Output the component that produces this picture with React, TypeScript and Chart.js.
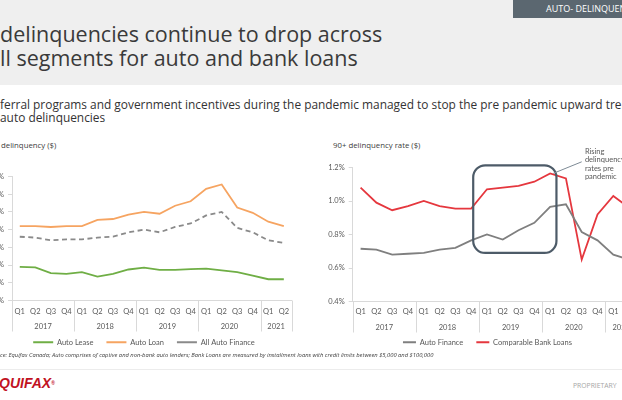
import React, { useEffect, useRef } from 'react';
import { Chart, registerables } from 'chart.js';

Chart.register(...registerables);

// ---------- data ----------
const quarters = ['Q1', 'Q2', 'Q3', 'Q4', 'Q1', 'Q2', 'Q3', 'Q4', 'Q1', 'Q2', 'Q3', 'Q4', 'Q1', 'Q2', 'Q3', 'Q4', 'Q1', 'Q2'];
const yearLabels = ['2017', '2018', '2019', '2020', '2021'];
const yearStarts = [0, 4, 8, 12, 16];
const yearCounts = [4, 4, 4, 4, 2];

const autoLease = [0.38, 0.375, 0.31, 0.30, 0.32, 0.27, 0.30, 0.35, 0.37, 0.345, 0.345, 0.355, 0.36, 0.34, 0.32, 0.28, 0.24, 0.24];
const autoLoan = [0.84, 0.84, 0.83, 0.84, 0.84, 0.91, 0.92, 0.97, 1.0, 0.98, 1.07, 1.12, 1.26, 1.31, 1.05, 0.99, 0.89, 0.84];
const allAutoFinance = [0.72, 0.71, 0.68, 0.69, 0.69, 0.71, 0.72, 0.77, 0.8, 0.77, 0.83, 0.87, 0.96, 1.0, 0.82, 0.77, 0.68, 0.65];

const autoFinance = [0.715, 0.71, 0.68, 0.685, 0.69, 0.71, 0.72, 0.765, 0.8, 0.77, 0.825, 0.87, 0.965, 0.98, 0.815, 0.765, 0.68, 0.65];
const bankLoans = [1.08, 0.99, 0.945, 0.97, 1.0, 0.97, 0.955, 0.955, 1.07, 1.08, 1.09, 1.115, 1.165, 1.135, 0.65, 0.92, 1.03, 0.96];

const leftAxis = { min: 0, max: 1.4, step: 0.2 };
const rightAxis = { min: 0.4, max: 1.2, step: 0.2 };

const calloutLines = ['Rising', 'delinquency', 'rates pre', 'pandemic'];

// ---------- styles ----------
const CHART_FONT = 'Lato';
const TEXT_GREY = '#595959';
const AXIS_GREY = '#d9d9d9';

// year group labels + separators under the quarter axis
const yearGroupPlugin = {
  id: 'yearGroups',
  afterDraw(chart: any) {
    const x = chart.scales.x;
    if (!x) return;
    const ctx = chart.ctx;
    ctx.save();
    ctx.strokeStyle = AXIS_GREY;
    ctx.lineWidth = 1;
    const bounds = [...yearStarts, quarters.length];
    bounds.forEach((b) => {
      const px = Math.round(x.getPixelForValue(b - 0.5)) + 0.5;
      ctx.beginPath();
      ctx.moveTo(px, x.top);
      ctx.lineTo(px, x.top + 31);
      ctx.stroke();
    });
    ctx.fillStyle = TEXT_GREY;
    ctx.font = `7.5px ${CHART_FONT}`;
    ctx.textAlign = 'center';
    ctx.textBaseline = 'middle';
    yearLabels.forEach((label, i) => {
      const px = x.getPixelForValue(yearStarts[i] + (yearCounts[i] - 1) / 2);
      ctx.fillText(label, px, x.top + 26);
    });
    ctx.restore();
  },
};

const calloutPlugin = {
  id: 'callout',
  afterDatasetsDraw(chart: any, _args: any, opts: any) {
    if (!opts || !opts.enabled) return;
    const { x, y } = chart.scales;
    const ctx = chart.ctx;
    ctx.save();
    const l = x.getPixelForValue(opts.box.x0);
    const r = x.getPixelForValue(opts.box.x1);
    const t = y.getPixelForValue(opts.box.y1);
    const b = y.getPixelForValue(opts.box.y0);
    ctx.strokeStyle = '#4d5b68';
    ctx.lineWidth = 2.2;
    ctx.beginPath();
    ctx.roundRect(l, t, r - l, b - t, 12);
    ctx.stroke();
    ctx.strokeStyle = '#7d8a95';
    ctx.lineWidth = 1;
    ctx.beginPath();
    ctx.moveTo(x.getPixelForValue(opts.leader.x0), y.getPixelForValue(opts.leader.y0));
    ctx.lineTo(x.getPixelForValue(opts.leader.x1), y.getPixelForValue(opts.leader.y1));
    ctx.stroke();
    ctx.fillStyle = TEXT_GREY;
    ctx.font = `7.5px ${CHART_FONT}`;
    ctx.textBaseline = 'middle';
    ctx.textAlign = 'left';
    const tx = x.getPixelForValue(opts.text.x);
    const ty = y.getPixelForValue(opts.text.y);
    calloutLines.forEach((line, i) => ctx.fillText(line, tx, ty + i * 8.3));
    ctx.restore();
  },
};

function buildOptions(cfg: any) {
  const tickFont = { family: CHART_FONT, size: 7.5 };
  const scales: any = {
    x: {
      type: 'category',
      offset: true,
      grid: { display: false, drawTicks: false },
      border: { display: true, color: AXIS_GREY, width: 1 },
      ticks: { color: TEXT_GREY, font: tickFont, padding: cfg.qPad, maxRotation: 0, autoSkip: false },
      afterFit: (axis: any) => { axis.height = cfg.xHeight; },
    },
    y: {
      min: cfg.axis.min,
      max: cfg.axis.max,
      grid: { drawOnChartArea: false, drawTicks: true, tickLength: 4, color: AXIS_GREY },
      border: { display: true, color: AXIS_GREY, width: 1 },
      ticks: {
        stepSize: cfg.axis.step,
        color: TEXT_GREY,
        font: tickFont,
        padding: 4,
        callback: (v: any) => Number(v).toFixed(1) + '%',
      },
      afterFit: (axis: any) => { axis.width = cfg.yWidth; },
    },
  };
  if (cfg.rightGutter) {
    // empty spacer on the right so the legend centres like the slide
    scales.gutter = {
      type: 'linear',
      position: 'right',
      grid: { display: false, drawTicks: false },
      border: { display: false },
      ticks: { display: false },
      afterFit: (axis: any) => { axis.width = cfg.rightGutter; },
    };
  }
  return {
    responsive: false,
    animation: false,
    layout: { padding: { top: cfg.padTop, left: cfg.padLeft, right: 0, bottom: 0 } },
    plugins: {
      legend: {
        position: 'bottom',
        labels: {
          usePointStyle: true,
          pointStyle: 'line',
          pointStyleWidth: cfg.legendWidth,
          padding: 13,
          color: TEXT_GREY,
          font: { family: CHART_FONT, size: 7.5 },
        },
      },
      tooltip: { enabled: false },
      callout: cfg.callout || { enabled: false },
    },
    scales,
  };
}

function line(label: string, data: number[], color: string, extra: any = {}) {
  return {
    label,
    data,
    borderColor: color,
    backgroundColor: color,
    borderWidth: 1.8,
    pointRadius: 0,
    tension: 0,
    fill: false,
    ...extra,
  };
}

function ChartCanvas({ style, width, height, makeConfig }: any) {
  const ref = useRef<HTMLCanvasElement | null>(null);
  useEffect(() => {
    if (!ref.current) return;
    const chart = new Chart(ref.current, makeConfig());
    return () => chart.destroy();
  }, []);
  return (
    <canvas
      ref={ref}
      width={width}
      height={height}
      style={{ position: 'absolute', width, height, ...style }}
    />
  );
}

const leftConfig = () => ({
  type: 'line',
  data: {
    labels: quarters,
    datasets: [
      line('Auto Lease', autoLease, '#6fae45'),
      line('Auto Loan', autoLoan, '#f6a461'),
      line('All Auto Finance', allAutoFinance, '#8a8a8a', { borderDash: [5, 3.5] }),
    ],
  },
  options: buildOptions({
    padTop: 20.5,
    padLeft: 0,
    legendWidth: 20,
    qPad: 7,
    xHeight: 25,
    yWidth: 20,
    axis: leftAxis,
  }),
  plugins: [yearGroupPlugin],
});

const rightConfig = () => ({
  type: 'line',
  data: {
    labels: quarters,
    datasets: [
      line('Auto Finance', autoFinance, '#7f7f7f'),
      line('Comparable Bank Loans', bankLoans, '#e5373e'),
    ],
  },
  options: buildOptions({
    padTop: 31.5,
    padLeft: 2,
    legendWidth: 13,
    qPad: 6,
    xHeight: 24,
    yWidth: 30.7,
    rightGutter: 16,
    axis: rightAxis,
    callout: {
      enabled: true,
      box: { x0: 7.13, x1: 12.4, y0: 0.69, y1: 1.213 },
      leader: { x0: 12.2, y0: 1.165, x1: 14.0, y1: 1.234 },
      text: { x: 14.2, y: 1.294 },
    },
  }),
  plugins: [yearGroupPlugin, calloutPlugin],
});

export default function App() {
  const sans = '"Open Sans", "Noto Sans", sans-serif';
  return (
    <div
      style={{
        position: 'absolute',
        left: 0,
        top: 0,
        width: 622,
        height: 400,
        overflow: 'hidden',
        background: '#ffffff',
        fontFamily: sans,
      }}
    >
      {/* header band */}
      <div style={{ position: 'absolute', left: 0, top: 0, width: 622, height: 85, background: '#efefef' }} />
      <div style={{ position: 'absolute', left: 513, top: 0, width: 140, height: 18, background: '#5b6770' }} />
      <div
        style={{
          position: 'absolute',
          left: 546,
          top: 0,
          height: 18,
          lineHeight: '18px',
          fontSize: 9,
          color: '#ffffff',
          whiteSpace: 'nowrap',
        }}
      >
        AUTO- DELINQUENCIES
      </div>
      <div
        style={{
          position: 'absolute',
          left: 0,
          top: 22,
          fontSize: 21.5,
          lineHeight: '24px',
          color: '#3a3a3a',
          whiteSpace: 'nowrap',
        }}
      >
        <div>delinquencies continue to drop across</div>
        <div>ll segments for auto and bank loans</div>
      </div>
      <div
        style={{
          position: 'absolute',
          left: 0,
          top: 98,
          fontSize: 11.9,
          lineHeight: '13px',
          color: '#333333',
          whiteSpace: 'nowrap',
        }}
      >
        <div>ferral programs and government incentives during the pandemic managed to stop the pre pandemic upward trend in</div>
        <div>auto delinquencies</div>
      </div>

      {/* chart titles */}
      <div style={{ position: 'absolute', left: 1, top: 140, fontSize: 7.8, lineHeight: '10px', color: '#404040', whiteSpace: 'nowrap' }}>
        delinquency ($)
      </div>
      <div style={{ position: 'absolute', left: 333, top: 140, fontSize: 7.8, lineHeight: '10px', color: '#404040', whiteSpace: 'nowrap' }}>
        90+ delinquency rate ($)
      </div>

      <ChartCanvas style={{ left: -8, top: 156 }} width={304} height={200} makeConfig={leftConfig} />
      <ChartCanvas style={{ left: 320, top: 136 }} width={333} height={220} makeConfig={rightConfig} />

      {/* footnote */}
      <div
        style={{
          position: 'absolute',
          left: 0,
          top: 351,
          fontSize: 5.8,
          lineHeight: '8px',
          fontStyle: 'italic',
          color: '#404040',
          whiteSpace: 'nowrap',
        }}
      >
        ce: Equifax Canada; Auto comprises of captive and non-bank auto lenders; Bank Loans are measured by installment loans with credit limits between $5,000 and $100,000
      </div>
      <div style={{ position: 'absolute', left: 0, top: 369, width: 622, height: 1, background: '#ececec' }} />
      <div
        style={{
          position: 'absolute',
          left: -1,
          top: 375,
          fontFamily: '"Liberation Sans", Arial, sans-serif',
          fontWeight: 700,
          fontStyle: 'italic',
          fontSize: 14,
          lineHeight: '16px',
          color: '#c1121f',
          whiteSpace: 'nowrap',
        }}
      >
        QUIFAX<span style={{ fontSize: 5, verticalAlign: 'top', fontStyle: 'normal' }}>®</span>
      </div>
      <div
        style={{
          position: 'absolute',
          left: 573,
          top: 381,
          fontSize: 6.8,
          lineHeight: '9px',
          color: '#a6a6a6',
          whiteSpace: 'nowrap',
        }}
      >
        PROPRIETARY
      </div>
    </div>
  );
}
